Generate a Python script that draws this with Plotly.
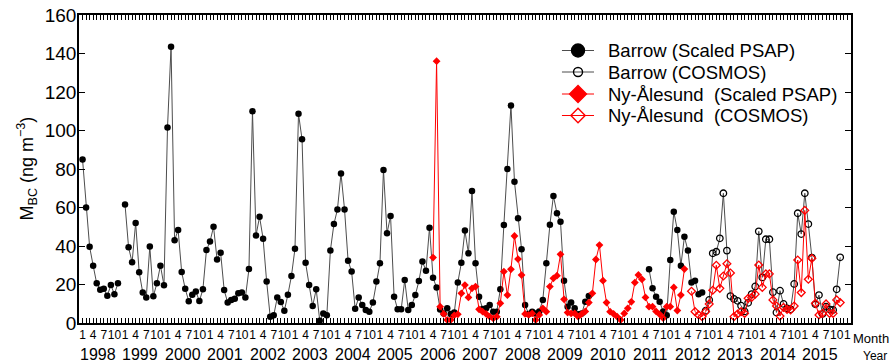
import plotly.graph_objects as go

# ---------------- data (monthly means, ng m^-3) ----------------
start_year = 1998
years = list(range(1998, 2016))
month_labels = ["1", "4", "7", "10"]

# Barrow, scaled PSAP: Jan 1998 .. Aug 2012 (None = no data)
barrow_psap_start = 0
barrow_psap = [
    85, 60, 39.6, 29.8, 20.6, 17.3, 17.8, 14.2, 19.7, 15, 20.6, None,
    61.6, 39.3, 31.5, 52, 26.3, 15.9, 13.2, 39.7, 13.9, 20.6, 29.8, 19.6,
    101.6, 143.5, 43, 48.3, 26.5, 17.8, 11.3, 14.7, 16.4, 11.4, 17.5, 37.9,
    42.3, 50, 33, 36.5, 17.1, 10.6, 11.9, 12.6, 15.4, 15.9, 13.2, 28,
    110, 45.5, 55.2, 43.8, 21.5, 3.3, 4, 13.2, 10.9, 6.4, 14.7, 24.4,
    38.6, 108.7, 95.4, 31.3, 19.7, 8.8, 17.5, 1.2, 5, 4, 37.6, 51.4,
    59, 77.7, 59, 32.4, 26.7, 7.4, 13.2, 9.4, 6.8, 5.9, 10.6, 21.5,
    31, 79.5, 46.6, 55.6, 13.7, 7.1, 7.1, 22.3, 6.8, 9.4, 14.5, 21.8,
    31.9, 27.2, 49.5, 23.5, 18.4, 7, 5, 7.6, 4.7, 5.4, 21.1, 31.3,
    48, 36.2, 68.6, 31, 13.7, 7.3, 7.6, 9.4, 5.9, 5.9, 17.5, 50.9,
    80, 113, 73.4, 54.4, 38.3, 9.4, 4.7, 5.9, 5, 6, 12, 31,
    51, 66, 57, 52.6, 22, 8.5, 10.6, 7.6, 4.5, 5, 11, 14,
    None, None, None, None, None, None, None, None, None, None, None, None,
    None, None, None, None, 27.9, 18, 13.7, 11, 6, 4, 32.7, 57.8,
    48.3, 29.8, 44.8, 37.6, 21.1, 22, 15, 15.8,
]

# Barrow, COSMOS: from Sep 2012
barrow_cosmos_start = 176
barrow_cosmos = [
    6.4, 12, 36.2, 37,
    44, 67.4, 37.6, 14, 12.5, 11.5, 9, 6, 10.5, 15, 19, 47.6,
    23.7, 43.5, 43.5, 16, 5.5, 16.8, 9.9, 7.6, 7.1, 20.3, 57, 46.2,
    67.4, 51.4, 34, 9.7, 14.5, 4.7, 8.5, 7.1, 6.8, 17.5, 34.1,
]

# Ny-Alesund, scaled PSAP: from Apr 2006
ny_psap_start = 99
ny_psap = [
    34, 136, 8.5, 4.7, 1.6, 1.6, 4, 4.5, 15.4,
    19.7, 13.3, 18, 18.9, 7.1, 5.9, 4.7, 3.3, 2.4, 3.3, 10.2, 26.7,
    14.5, 27.9, 45.2, 33.2, 24.9, 4.7, 4.2, 5, 1.6, 4.2, 7.6, 5.9,
    18.9, 23.2, 24.6, 35.7, 12.3, 5.4, 5, 5, 3.3, 4.7, 6, 10.6,
    15.4, 33, 40.5, 22, 10.6, 5.9, 4.7, 3.3, 1.6, 5, 7.6, 11,
    21, 25, 22.7, 13.3, 8.5, 8.5, 6, 4.5, 2.5, 8.5, 8.5, 18.5,
    6.5, 14.5, 28,
]

# Ny-Alesund, COSMOS: from May 2012
ny_cosmos_start = 172
ny_cosmos = [
    16.5, 5.9, 4.2, 3.3, 5.9, 9.9, 17, 30,
    18, 24.4, 30.8, 26, 3.3, 4.7, 5.9, 5, 12.8, 13.3, 15, 30.1,
    18.5, 25.5, 25.5, 12, 8.8, 3.6, 8.1, 7.1, 6.8, 8.8, 32.7, 15.8,
    58.5, 22.7, 33.6, 10.2, 4.2, 5, 9.9, 5, 5, 12, 10.6,
]

legend_names = [
    "Barrow (Scaled PSAP)",
    "Barrow (COSMOS)",
    "Ny-Ålesund  (Scaled PSAP)",
    "Ny-Ålesund  (COSMOS)",
]


def xs(start, n):
    # month index -> decimal year (uniform monthly spacing)
    return [start_year + (start + i) / 12.0 for i in range(n)]


FONT = "Liberation Sans, Arial, Helvetica, sans-serif"
BLACK_LINE = "#4d4d4d"
RED = "#ff0000"

fig = go.Figure()

fig.add_trace(go.Scatter(
    x=xs(barrow_psap_start, len(barrow_psap)), y=barrow_psap,
    mode="lines+markers", connectgaps=False, showlegend=False,
    line=dict(color=BLACK_LINE, width=1),
    marker=dict(symbol="circle", size=6.5, color="black"),
))
fig.add_trace(go.Scatter(
    x=xs(barrow_cosmos_start, len(barrow_cosmos)), y=barrow_cosmos,
    mode="lines+markers", showlegend=False,
    line=dict(color=BLACK_LINE, width=1),
    marker=dict(symbol="circle-open", size=6.5, color="black", line=dict(width=1.3)),
))
fig.add_trace(go.Scatter(
    x=xs(ny_psap_start, len(ny_psap)), y=ny_psap,
    mode="lines+markers", showlegend=False,
    line=dict(color=RED, width=1),
    marker=dict(symbol="diamond", size=6, color=RED),
))
fig.add_trace(go.Scatter(
    x=xs(ny_cosmos_start, len(ny_cosmos)), y=ny_cosmos,
    mode="lines+markers", showlegend=False,
    line=dict(color=RED, width=1),
    marker=dict(symbol="diamond-open", size=6, color=RED, line=dict(width=1.3)),
))

# ---- hand-placed key on an overlay axis pair (0..1 of the plot area) ----
key_rows = [0.8847, 0.8149, 0.7435, 0.6737]
key_style = [
    ("circle", "black", BLACK_LINE, 13),
    ("circle-open", "black", BLACK_LINE, 9),
    ("diamond", RED, RED, 13),
    ("diamond-open", RED, RED, 11),
]
x_line0, x_mark, x_line1 = 0.6256, 0.6464, 0.6671
annotations = []
for name, yr, (sym, mcol, lcol, sz) in zip(legend_names, key_rows, key_style):
    fig.add_trace(go.Scatter(
        x=[x_line0, x_line1], y=[yr, yr], xaxis="x2", yaxis="y2",
        mode="lines", line=dict(color=lcol, width=1),
        showlegend=False, hoverinfo="skip",
    ))
    fig.add_trace(go.Scatter(
        x=[x_mark], y=[yr], xaxis="x2", yaxis="y2", mode="markers",
        marker=dict(symbol=sym, size=sz, color=mcol, line=dict(width=1.4, color=mcol)),
        showlegend=False, hoverinfo="skip",
    ))
    annotations.append(dict(
        x=0.6826, y=yr, xref="paper", yref="paper", text=name,
        showarrow=False, xanchor="left", yanchor="middle",
        font=dict(size=18.5, color="black", family=FONT),
    ))

# x ticks: months 1,4,7,10 of each year
tickvals, ticktext = [], []
for y in years:
    for m in (1, 4, 7, 10):
        tickvals.append(y + (m - 1) / 12.0)
        ticktext.append(month_labels[(m - 1) // 3])
tickvals.append(2016.0)
ticktext.append("1")

for y in years:
    annotations.append(dict(
        x=y + 4.3 / 12.0, y=0, xref="x", yref="paper", text=str(y),
        showarrow=False, yanchor="top", yshift=-21,
        font=dict(size=16, color="black", family=FONT),
    ))
annotations.append(dict(
    x=1.0, y=0, xref="paper", yref="paper", text="Month", showarrow=False,
    xanchor="left", yanchor="top", xshift=0, yshift=-6,
    font=dict(size=13, color="black", family=FONT),
))
annotations.append(dict(
    x=1.0, y=0, xref="paper", yref="paper", text="Year", showarrow=False,
    xanchor="left", yanchor="top", xshift=10, yshift=-24,
    font=dict(size=12, color="black", family=FONT),
))
annotations.append(dict(
    x=-0.068, y=0.5, xref="paper", yref="paper",
    text="M<sub>BC</sub> (ng m<sup>−3</sup>)", textangle=-90, showarrow=False,
    xanchor="center", yanchor="middle",
    font=dict(size=18, color="black", family=FONT),
))

fig.update_layout(
    width=890, height=362,
    margin=dict(l=79, r=39, t=15, b=39, autoexpand=False),
    paper_bgcolor="white", plot_bgcolor="white",
    font=dict(family=FONT, color="black"),
    showlegend=False,
    annotations=annotations,
    xaxis=dict(
        range=[start_year - 1.0 / 12.0, start_year + 217.05 / 12.0],
        tickmode="array", tickvals=tickvals, ticktext=ticktext,
        ticks="inside", ticklen=5, tickwidth=1, tickcolor="black",
        minor=dict(dtick=1.0 / 12.0, tick0=start_year, ticks="inside", ticklen=5,
                   tickwidth=1, tickcolor="black"),
        showline=True, linecolor="black", linewidth=1.5, mirror="ticks",
        showgrid=False, zeroline=False, automargin=False,
        tickfont=dict(size=12, family=FONT, color="black"), tickangle=0,
    ),
    yaxis=dict(
        range=[0, 160], tickmode="linear", tick0=0, dtick=20,
        ticks="inside", ticklen=6, tickwidth=1, tickcolor="black",
        showline=True, linecolor="black", linewidth=1.5, mirror="ticks",
        showgrid=False, zeroline=False, automargin=False,
        ticklabelstandoff=-3,
        tickfont=dict(size=19, family=FONT, color="black"),
    ),
    xaxis2=dict(overlaying="x", range=[0, 1], visible=False, fixedrange=True,
                automargin=False),
    yaxis2=dict(overlaying="y", range=[0, 1], visible=False, fixedrange=True,
                automargin=False),
)

fig.write_html(
    "out.html",
    config={"displayModeBar": False},
    post_script="document.body.style.margin='0';document.body.style.padding='0';"
                "document.documentElement.style.overflow='hidden';",
)
